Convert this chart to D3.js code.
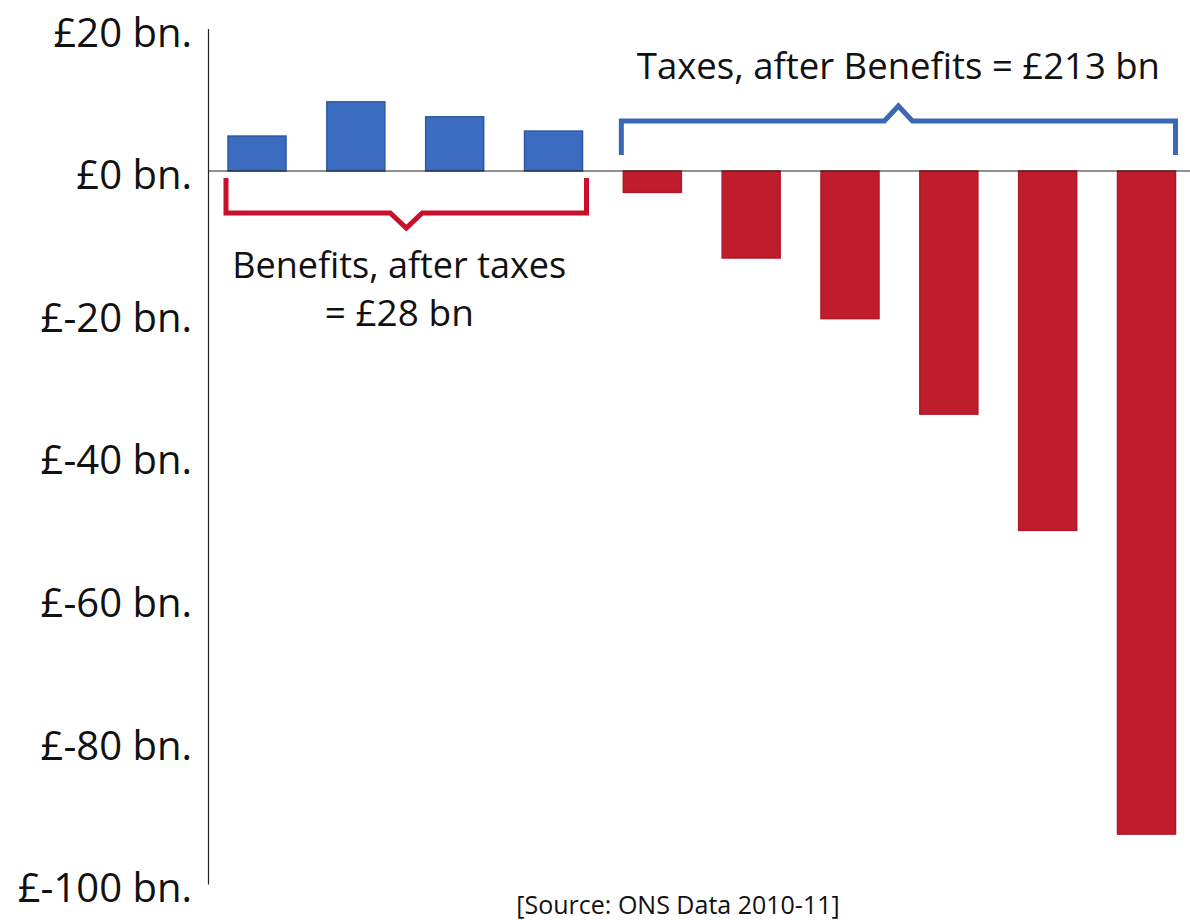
<!DOCTYPE html>
<html>
<head>
<meta charset="utf-8">
<script src="https://cdn.jsdelivr.net/npm/d3@7"></script>
<style>
  html, body { margin: 0; padding: 0; background: #fff; }
  svg { display: block; }
  text { font-family: "Open Sans", "Noto Sans", sans-serif; fill: #111; }
</style>
</head>
<body>
<svg id="chart" width="1190" height="920"></svg>
<script>
// Net transfer per household decile group, £ billion (ONS 2010-11)
const groups = ["D1", "D2", "D3", "D4", "D5", "D6", "D7", "D8", "D9", "D10"];
const netValues = [4.9, 9.7, 7.6, 5.6, -3.0, -12.2, -20.7, -34.1, -50.4, -93.0];
const tickValues = [20, 0, -20, -40, -60, -80, -100];
const tickLabels = ["£20 bn.", "£0 bn.", "£-20 bn.", "£-40 bn.", "£-60 bn.", "£-80 bn.", "£-100 bn."];
const benefitsLabel = ["Benefits, after taxes", "= £28 bn"];
const taxesLabel = "Taxes, after Benefits = £213 bn";
const sourceLabel = "[Source: ONS Data 2010-11]";

const svg = d3.select("#chart");
const axisX = 208;

const y = d3.scaleLinear().domain([-100, 20]).range([884, 28.4]);
const x = d3.scaleBand().domain(groups).range([228, 1175.5]).paddingInner(0.413).paddingOuter(0);

const blue = "#3b6cc0", blueEdge = "#2c58a6";
const red = "#c01d2c", redEdge = "#b0182a";

// Bars
svg.append("g").selectAll("rect")
  .data(groups.map((g, i) => ({ g, v: netValues[i] })))
  .join("rect")
  .attr("x", d => x(d.g))
  .attr("width", x.bandwidth())
  .attr("y", d => y(Math.max(0, d.v)))
  .attr("height", d => Math.abs(y(d.v) - y(0)))
  .attr("fill", d => d.v >= 0 ? blue : red)
  .attr("stroke", d => d.v >= 0 ? blueEdge : redEdge)
  .attr("stroke-width", 1.5);

// Zero line
svg.append("line")
  .attr("x1", axisX).attr("x2", 1190)
  .attr("y1", y(0)).attr("y2", y(0))
  .attr("stroke", "#222").attr("stroke-width", 1.2);

// Vertical axis with tick labels
const axis = d3.axisLeft(y)
  .tickValues(tickValues)
  .tickFormat((d, i) => tickLabels[i])
  .tickSize(0)
  .tickSizeOuter(0)
  .tickPadding(16);

const gAxis = svg.append("g").attr("transform", `translate(${axisX},0)`).call(axis);
gAxis.select(".domain").attr("stroke", "#222").attr("stroke-width", 1.2);
gAxis.selectAll("text")
  .attr("dy", "0.44em")
  .style("font-family", "\"Open Sans\", \"Noto Sans\", sans-serif")
  .style("font-size", "40px")
  .attr("fill", "#111");

// Bracket helper: flat bar with end hooks and a centre point
function bracket(x0, x1, yBar, yEnds, yPoint, half, color) {
  const xm = (x0 + x1) / 2;
  const p = d3.path();
  p.moveTo(x0, yEnds);
  p.lineTo(x0, yBar);
  p.lineTo(xm - half, yBar);
  p.lineTo(xm, yPoint);
  p.lineTo(xm + half, yBar);
  p.lineTo(x1, yBar);
  p.lineTo(x1, yEnds);
  svg.append("path")
    .attr("d", p.toString())
    .attr("fill", "none")
    .attr("stroke", color)
    .attr("stroke-width", 5)
    .attr("stroke-linejoin", "miter");
  return xm;
}

const benefitIdx = netValues.map((v, i) => i).filter(i => netValues[i] > 0);
const taxIdx = netValues.map((v, i) => i).filter(i => netValues[i] < 0);

const b0 = x(groups[benefitIdx[0]]) - 2;
const b1 = x(groups[benefitIdx[benefitIdx.length - 1]]) + x.bandwidth() + 4;
const bm = bracket(b0, b1, y(0) + 42, y(0) + 7, y(0) + 57, 16, "#c8102e");

const t0 = x(groups[taxIdx[0]]) - 2;
const t1 = x(groups[taxIdx[taxIdx.length - 1]]) + x.bandwidth();
const tm = bracket(t0, t1, y(0) - 50, y(0) - 16, y(0) - 65, 14, "#3a68b4");

// Annotations
svg.append("text")
  .attr("x", bm - 7).attr("y", 278)
  .attr("text-anchor", "middle")
  .style("font-size", "36px")
  .text(benefitsLabel[0]);
svg.append("text")
  .attr("x", bm - 7).attr("y", 326)
  .attr("text-anchor", "middle")
  .style("font-size", "37px")
  .text(benefitsLabel[1]);
svg.append("text")
  .attr("x", tm).attr("y", 79)
  .attr("text-anchor", "middle")
  .style("font-size", "36.5px")
  .text(taxesLabel);

// Source note
svg.append("text")
  .attr("x", 678).attr("y", 914)
  .attr("text-anchor", "middle")
  .style("font-size", "25px")
  .text(sourceLabel);
</script>
</body>
</html>
